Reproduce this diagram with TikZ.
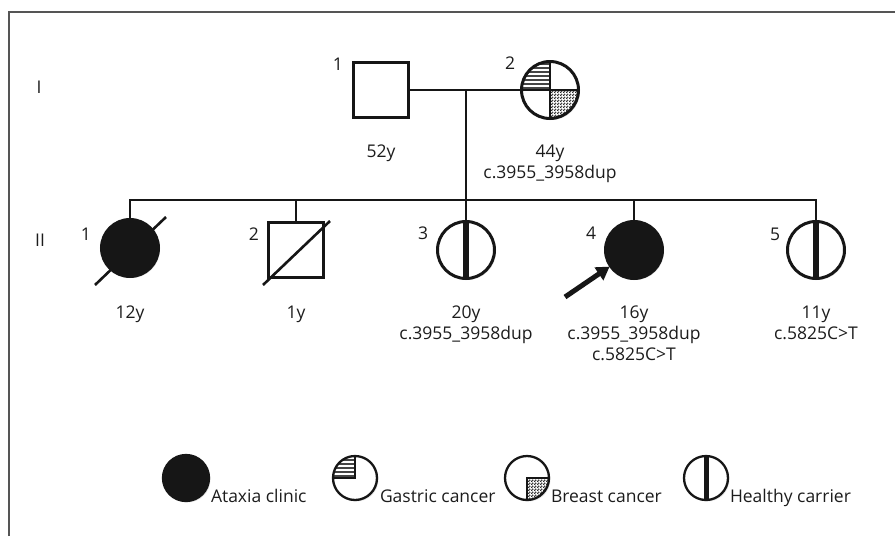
\documentclass[tikz,border=0pt]{standalone}
\usepackage{fontspec}
\setmainfont{Open Sans}
\usetikzlibrary{arrows.meta,patterns,shadows}
\definecolor{ink}{HTML}{161616}
\definecolor{txt}{HTML}{1C1C1C}
\definecolor{framec}{HTML}{555555}
% thick horizontal stripes for gastric cancer
\pgfdeclarepatternformonly{hstripes}{\pgfqpoint{-1pt}{-1pt}}{\pgfqpoint{5pt}{5pt}}{\pgfqpoint{4pt}{4pt}}%
{\pgfsetlinewidth{1.8pt}\pgfpathmoveto{\pgfqpoint{-1pt}{0pt}}\pgfpathlineto{\pgfqpoint{5pt}{0pt}}\pgfusepath{stroke}}
% dense dots for breast cancer
\pgfdeclarepatternformonly{densedots}{\pgfqpoint{0pt}{0pt}}{\pgfqpoint{2.6pt}{2.6pt}}{\pgfqpoint{2.6pt}{2.6pt}}%
{\pgfpathcircle{\pgfqpoint{0.65pt}{0.65pt}}{0.85pt}\pgfpathcircle{\pgfqpoint{1.95pt}{1.95pt}}{0.85pt}\pgfusepath{fill}}
% quadrant fillings drawn inside a symbol
\newcommand\gastricquad[1]{%
  \fill[pattern=hstripes, pattern color=ink!80]
    (path picture bounding box.center) rectangle (path picture bounding box.north west);
  \draw[ink, line width=#1]
    (path picture bounding box.north) -- (path picture bounding box.center)
    -- (path picture bounding box.west);}
\newcommand\breastquad[1]{%
  \fill[pattern=densedots, pattern color=ink!90]
    (path picture bounding box.center) rectangle (path picture bounding box.south east);
  \draw[ink, line width=#1]
    (path picture bounding box.south) -- (path picture bounding box.center)
    -- (path picture bounding box.east);}
\begin{document}
\begin{tikzpicture}[x=1pt,y=-1pt,
  every node/.style={inner sep=0pt, outer sep=0pt},
  lbl/.style={text=txt, font=\fontsize{17.5}{20}\selectfont, anchor=base},
  sym/.style={draw=ink, line width=3pt, fill=white,
    drop shadow={shadow xshift=1.5pt, shadow yshift=-1.5pt, opacity=0.2}},
  male/.style={sym, rectangle, minimum size=55pt},
  female/.style={sym, circle, minimum size=57pt},
  legsym/.style={sym, circle, line width=2.3pt, minimum size=44pt},
  affected/.style={fill=ink},
  carrier/.style={path picture={\fill[ink]
      ([xshift=-#1]path picture bounding box.north) rectangle
      ([xshift=#1]path picture bounding box.south);}},
  carrier/.default=3pt,
  gastric/.style={path picture={\gastricquad{#1}}},
  breast/.style={path picture={\breastquad{#1}}},
  gastricbreast/.style={path picture={\gastricquad{#1}\breastquad{#1}}},
  link/.style={draw=ink, line width=2.6pt},
  deceased/.style={draw=ink, line width=2.6pt},
  proband/.style={draw=ink, line width=5pt, -{Triangle[length=13pt,width=15pt]}, shorten >=1pt}
]
\useasboundingbox (0,0) rectangle (895,536);
\draw[framec, line width=2pt] (9,536) -- (9,12) -- (895,12);

% generation labels
\node[lbl] (genI) at (39,93) {I};
\node[lbl] (genII) at (40,246) {II};

% generation I
\node[male] (p1) at (381,90) {};
\node[female, gastricbreast=2pt] (p2) at (550,90) {};
\node[lbl] (n1) at (338,70) {1};
\node[lbl] (n2) at (510,69) {2};
\node[lbl] (a1) at (381,157) {52y};
\node[lbl] (a2) at (550,157) {44y};
\node[lbl] (g2) at (550,178) {c.3955\_3958dup};

% generation II
\node[female, affected] (c1) at (130,248) {};
\node[male] (c2) at (296,250) {};
\node[female, carrier] (c3) at (466,250) {};
\node[female, affected] (c4) at (634,250) {};
\node[female, carrier] (c5) at (816,250) {};

\node[lbl] (m1) at (86,240) {1};
\node[lbl] (m2) at (254,240) {2};
\node[lbl] (m3) at (423,239) {3};
\node[lbl] (m4) at (591,239) {4};
\node[lbl] (m5) at (775,240) {5};

\node[lbl] (b1) at (130,318) {12y};
\node[lbl] (b2) at (296,318) {1y};
\node[lbl] (b3) at (466,318) {20y};
\node[lbl] (v3) at (466,339) {c.3955\_3958dup};
\node[lbl] (b4) at (634,318) {16y};
\node[lbl] (v4a) at (634,339) {c.3955\_3958dup};
\node[lbl] (v4b) at (634,360) {c.5825C>T};
\node[lbl] (b5) at (816,318) {11y};
\node[lbl] (v5) at (816,339) {c.5825C>T};

% mating, descent and sibship lines
\coordinate (mate) at (466,91);
\coordinate (sib) at (466,200);
\draw[link] (p1.east) -- (p2.west);
\draw[link] (mate) -- (c3.north);
\draw[link] (c1.north) |- (sib) -| (c5.north);
\draw[link] (c2.north) -- (c2.north |- sib);
\draw[link] (c4.north) -- (c4.north |- sib);

% deceased strokes
\draw[deceased] ([shift={(-35,37)}]c1.center) -- ([shift={(36,-31)}]c1.center);
\draw[deceased] ([shift={(-33,35)}]c2.center) -- ([shift={(34,-29)}]c2.center);

% proband arrow
\coordinate (ptail) at (565,297);
\draw[proband] (ptail) -- (c4);

% legend
\node[legsym, affected, minimum size=46pt] (k1) at (186,478) {};
\node[legsym, gastric=1.6pt] (k2) at (355,478) {};
\node[legsym, breast=1.6pt] (k3) at (527,478) {};
\node[legsym, carrier=2.5pt] (k4) at (706,478) {};
\node[lbl, anchor=base west] (t1) at (211,502) {Ataxia clinic};
\node[lbl, anchor=base west] (t2) at (380,502) {Gastric cancer};
\node[lbl, anchor=base west] (t3) at (551,502) {Breast cancer};
\node[lbl, anchor=base west] (t4) at (730,502) {Healthy carrier};
\end{tikzpicture}
\end{document}
